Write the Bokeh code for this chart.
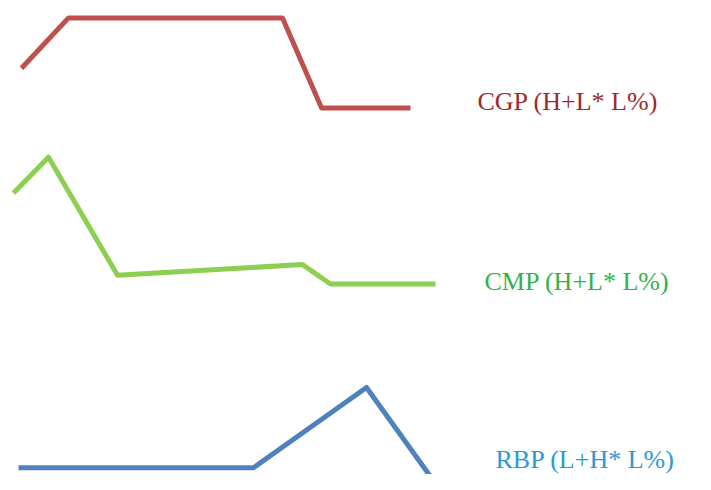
from bokeh.plotting import figure
from bokeh.embed import file_html
from bokeh.resources import INLINE
from bokeh.core.properties import value

# Series (x position, level)
cgp_x = [21, 68, 282, 321, 410]
cgp_y = [420, 472, 472, 379, 379]

cmp_x = [13, 48, 117, 302, 330, 435]
cmp_y = [291, 328, 206, 217, 197, 197]

rbp_x = [18, 253, 366, 432]
rbp_y = [7, 7, 90, -5]

labels = ["CGP (H+L* L%)", "CMP (H+L* L%)", "RBP (L+H* L%)"]
label_x = [477, 484, 495]
label_y = [386, 200, 16]
label_colors = ["#9c2b2b", "#33b24a", "#2a9ad6"]
line_colors = ["#c0504d", "#8dcf50", "#4f81bd"]

p = figure(width=695, height=474, output_backend="svg", toolbar_location=None,
           x_range=(0, 695), y_range=(0, 490), min_border=0)
p.axis.visible = False
p.grid.visible = False
p.outline_line_color = None
p.background_fill_color = "white"

for xs, ys, c in zip([cgp_x, cmp_x, rbp_x], [cgp_y, cmp_y, rbp_y], line_colors):
    p.line(xs, ys, line_color=c, line_width=5, line_join="round", line_cap="butt")

p.text(x=label_x, y=label_y, text=labels, text_color=label_colors,
       text_font=value("Liberation Serif"), text_font_size="26px",
       text_baseline="middle", text_align="left")

open("out.html", "w").write(file_html(p, INLINE))
